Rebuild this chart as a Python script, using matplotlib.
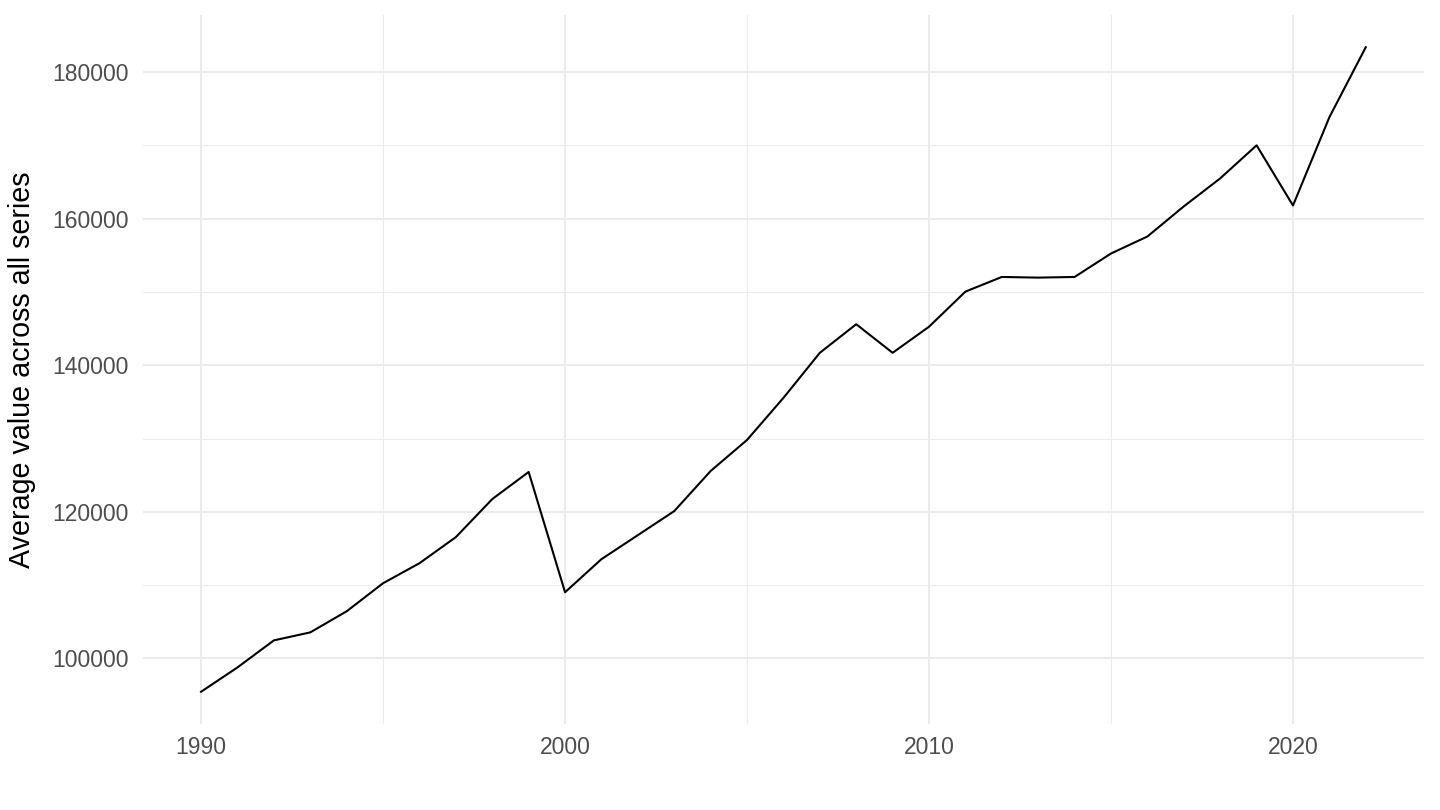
import matplotlib
matplotlib.use("Agg")
import matplotlib.pyplot as plt
from matplotlib.ticker import FixedLocator

years = list(range(1990, 2023))
values = [95450, 98770, 102460, 103550, 106430, 110260, 112990, 116550,
          121740, 125440, 109030, 113540, 116820, 120100, 125570, 129810,
          135550, 141700, 145600, 141700, 145260, 150050, 152050, 151960,
          152050, 155250, 157570, 161680, 165500, 170010, 161800, 173850,
          183400]
x_ticks = [1990, 2000, 2010, 2020]
y_ticks = [100000, 120000, 140000, 160000, 180000]
y_label = "Average value across all series"

plt.rcParams['font.family'] = ['Liberation Sans', 'DejaVu Sans']
fig = plt.figure(figsize=(14.4, 8.1), dpi=100)
ax = fig.add_axes([0.0992, 0.1062, 0.8897, 0.8753])

ax.plot(years, values, color='black', lw=1.5, zorder=3)

xr = max(years) - min(years)
ax.set_xlim(min(years) - 0.05 * xr, max(years) + 0.05 * xr)
yr = max(values) - min(values)
ax.set_ylim(min(values) - 0.05 * yr, max(values) + 0.05 * yr)

ax.xaxis.set_major_locator(FixedLocator(x_ticks))
ax.yaxis.set_major_locator(FixedLocator(y_ticks))
ax.xaxis.set_minor_locator(FixedLocator([1995, 2005, 2015]))
ax.yaxis.set_minor_locator(FixedLocator([110000, 130000, 150000, 170000]))
ax.set_xticklabels([str(t) for t in x_ticks])
ax.set_yticklabels([str(t) for t in y_ticks])

ax.grid(which='major', color='#EBEBEB', lw=1.5, zorder=0)
ax.grid(which='minor', color='#EBEBEB', lw=0.75, zorder=0)
ax.set_axisbelow(True)
for s in ax.spines.values():
    s.set_visible(False)
ax.tick_params(which='both', length=0, labelsize=16.5, labelcolor='#4D4D4D')
ax.tick_params(axis='x', pad=9)
ax.tick_params(axis='y', pad=10)
ax.set_ylabel(y_label, fontsize=20.6, color='black', labelpad=12)

fig.savefig("out.png", dpi=100, facecolor='white')
